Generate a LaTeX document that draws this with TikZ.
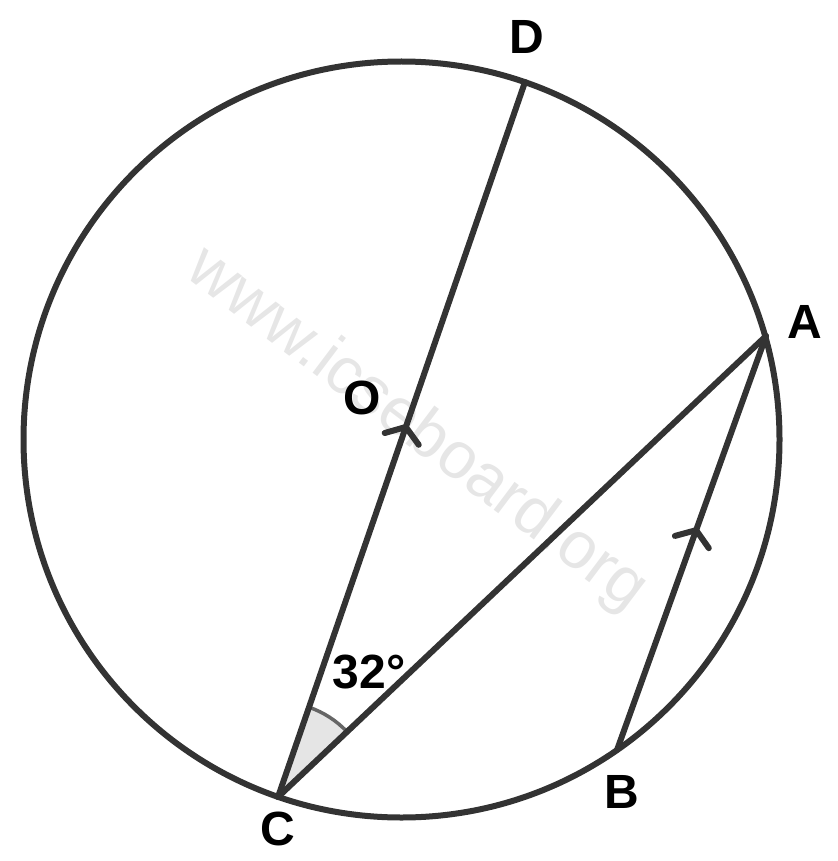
\documentclass[tikz,border=0pt]{standalone}
\usepackage{fontspec}
\setmainfont{Liberation Sans}
\usetikzlibrary{calc,angles}
\definecolor{ink}{HTML}{333333}
\definecolor{wm}{HTML}{E6E6E6}
\tikzset{
  geo/.style={draw=ink,line width=6pt,line cap=round,line join=round},
  lbl/.style={font=\fontsize{48}{48}\selectfont\bfseries,text=black,inner sep=0pt},
  chev/.style={draw=ink,line width=6pt,line cap=round,line join=round},
}
\begin{document}
\begin{tikzpicture}[x=1pt,y=-1pt]
\useasboundingbox (0,0) rectangle (837,861);
\node[rotate=-37,text=wm,font=\fontsize{66}{66}\selectfont,inner sep=0pt] (wmk) at (416,430) {www.icseboard.org};
\coordinate (O) at (401.5,439.5);
\coordinate (C) at (278,797);
\coordinate (D) at (525,82);
\coordinate (A) at (766,336);
\coordinate (B) at (617,750);
\pic[draw=ink!75,line width=3.5pt,fill=black!10,angle radius=95pt] {angle=A--C--O};
\draw[geo] (O) circle[radius=378];
\draw[geo] (C) -- (D);
\draw[geo] (C) -- (A);
\draw[geo] (B) -- (A);
\coordinate (m1) at ($(C)!0.5175!(D)$);
\coordinate (m2) at ($(B)!0.531!(A)$);
\draw[chev] ($(m1)+(195.9:22pt)$) -- (m1) -- ($(m1)+(305.9:22pt)$);
\draw[chev] ($(m2)+(195.2:22pt)$) -- (m2) -- ($(m2)+(305.2:22pt)$);
\node[lbl] (lD) at (527,37) {D};
\node[lbl] (lA) at (805,322) {A};
\node[lbl] (lO) at (362,398) {O};
\node[lbl] (lB) at (622,792) {B};
\node[lbl] (lC) at (278,829) {C};
\node[lbl] (lang) at (369,672) {32°};
\end{tikzpicture}
\end{document}
